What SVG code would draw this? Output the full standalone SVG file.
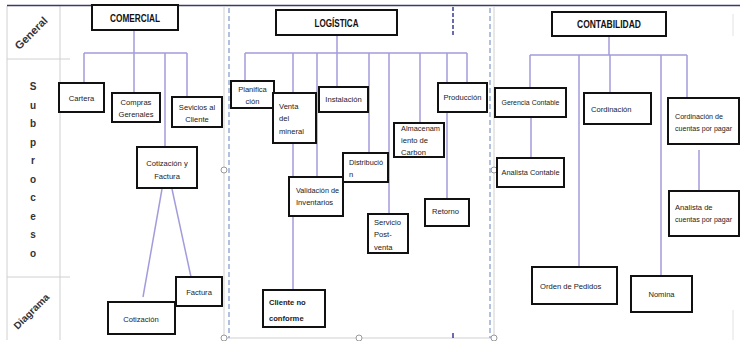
<svg xmlns="http://www.w3.org/2000/svg" width="743" height="341" viewBox="0 0 743 341">
<style>
.bx{fill:#fff;stroke:#111;stroke-width:2}
.t{font-family:"Liberation Sans",Arial,sans-serif;font-size:7.6px;fill:#222}
.c{text-anchor:middle}
.h{font-family:"Liberation Sans",Arial,sans-serif;font-size:10px;font-weight:bold;fill:#111;text-anchor:middle}
.ln{stroke:#a39cdc;stroke-width:1.5;fill:none}
.grid{stroke:#d0d0d0;stroke-width:1;fill:none}
.dash{stroke:#7d98cc;stroke-width:1.2;stroke-dasharray:5 3;fill:none}
.hd{fill:#fff;stroke:#999;stroke-width:1}
.side{font-family:"Liberation Sans",Arial,sans-serif;fill:#333;text-anchor:middle}
</style>
<rect width="743" height="341" fill="#fff"/>
<g id="frame">
<line class="grid" x1="7" y1="6" x2="7" y2="340"/>
<line class="grid" x1="60" y1="6" x2="60" y2="340"/>
<line class="grid" x1="7" y1="59" x2="70" y2="59"/>
<line class="grid" x1="7" y1="277" x2="70" y2="277"/>
<line x1="7" y1="5.5" x2="740" y2="5.5" stroke="#3a3a6e" stroke-width="1.5"/>
<line class="grid" x1="224" y1="6" x2="224" y2="338"/>
<line class="grid" x1="494" y1="6" x2="494" y2="338"/>
<line class="grid" x1="224" y1="338" x2="494" y2="338"/>
<line class="dash" x1="229" y1="8" x2="229" y2="338"/>
<line class="dash" x1="490" y1="8" x2="490" y2="338"/>
<line x1="453" y1="7" x2="453" y2="37" stroke="#3b3b8f" stroke-width="1.5" stroke-dasharray="4 2"/>
<line x1="453" y1="333" x2="453" y2="338" stroke="#3b3b8f" stroke-width="1.5"/>
<line x1="733" y1="14" x2="733" y2="36" stroke="#e2e2e2" stroke-width="1"/>
<line x1="733" y1="310" x2="733" y2="340" stroke="#e2e2e2" stroke-width="1"/>
<circle class="hd" cx="224" cy="170" r="3"/>
<circle class="hd" cx="224" cy="338" r="3"/>
<circle class="hd" cx="359" cy="338" r="3"/>
<circle class="hd" cx="494" cy="338" r="3"/>
<circle class="hd" cx="494" cy="170" r="3"/>
<text class="side" font-size="11" font-weight="bold" fill="#555" transform="translate(31,33) rotate(-45)" dy="4">General</text>
<text class="side" font-size="10" font-weight="bold" fill="#555" transform="translate(31,311) rotate(-45)" dy="4">Diagrama</text>
<g class="side" font-size="10" font-weight="bold">
<text x="33" y="90">S</text><text x="33" y="109">u</text><text x="33" y="127">b</text><text x="33" y="146">p</text><text x="33" y="164">r</text><text x="33" y="183">o</text><text x="33" y="201">c</text><text x="33" y="220">e</text><text x="33" y="238">s</text><text x="33" y="257">o</text>
</g>
</g>
<g id="connectors">
<path class="ln" d="M134 30V53M84 53H187M84 53V83M134 53V93M165 53V147M187 53V97"/>
<path class="ln" d="M162 189L143 297M172 189L191 277"/>
<path class="ln" d="M337 35V53M245 53H467M245 53V81M293 53V290M317 53V177M337 53V87M369 53V153M389 53V214M420 53V123M447 53V199M467 53V83"/>
<path class="ln" d="M609 36V55M530 55H687M530 55V88M579 55V267M610 55V93M661 55V276M687 55V98"/>
<path class="ln" d="M531 117V158M699 150V191"/>
</g>
<g id="comercial"><rect class="bx" x="92" y="5" width="86" height="25"/><text class="h" x="135" y="22" textLength="50" lengthAdjust="spacingAndGlyphs">COMERCIAL</text></g>
<g id="cartera"><rect class="bx" x="59" y="83" width="45" height="29"/><text class="t c" x="81.5" y="101">Cartera</text></g>
<g id="compras"><rect class="bx" x="112" y="93" width="48" height="29"/><text class="t c" x="136" y="105">Compras</text><text class="t c" x="136" y="117">Gerenales</text></g>
<g id="sevicios"><rect class="bx" x="172" y="97" width="50" height="30"/><text class="t c" x="197" y="110">Sevicios al</text><text class="t c" x="197" y="122">Cliente</text></g>
<g id="cotizacion-factura"><rect class="bx" x="137" y="147" width="60" height="41"/><text class="t c" x="167" y="166">Cotización y</text><text class="t c" x="167" y="179">Factura</text></g>
<g id="factura"><rect class="bx" x="176" y="277" width="46" height="29"/><text class="t c" x="199" y="295">Factura</text></g>
<g id="cotizacion"><rect class="bx" x="108" y="302" width="67" height="32"/><text class="t c" x="141" y="322">Cotización</text></g>
<g id="logistica"><rect class="bx" x="276" y="10" width="121" height="25"/><text class="h" x="336.5" y="27" textLength="44" lengthAdjust="spacingAndGlyphs">LOGÍSTICA</text></g>
<g id="planificacion"><rect class="bx" x="231" y="81" width="43" height="27"/><text class="t c" x="252.5" y="92">Planifica</text><text class="t c" x="252.5" y="104">ción</text></g>
<g id="venta"><rect class="bx" x="273" y="93" width="43" height="50"/><text class="t" x="279" y="109">Venta</text><text class="t" x="279" y="121">del</text><text class="t" x="279" y="134">mineral</text></g>
<g id="instalacion"><rect class="bx" x="319" y="87" width="49" height="25"/><text class="t c" x="343.5" y="102">Instalación</text></g>
<g id="distribucion"><rect class="bx" x="343" y="153" width="45" height="29"/><text class="t" x="349" y="165" textLength="34" lengthAdjust="spacingAndGlyphs">Distribució</text><text class="t" x="349" y="177">n</text></g>
<g id="validacion"><rect class="bx" x="289" y="177" width="54" height="39"/><text class="t" x="296" y="193" textLength="43" lengthAdjust="spacingAndGlyphs">Validación de</text><text class="t" x="296" y="205">Inventarios</text></g>
<g id="almacenamiento"><rect class="bx" x="394" y="123" width="50" height="34"/><text class="t" x="401" y="131" textLength="39" lengthAdjust="spacingAndGlyphs">Almacenam</text><text class="t" x="401" y="143">iento de</text><text class="t" x="401" y="155">Carbon</text></g>
<g id="servicio"><rect class="bx" x="368" y="214" width="40" height="39"/><text class="t" x="374" y="225">Servicio</text><text class="t" x="374" y="237">Post-</text><text class="t" x="374" y="250">venta</text></g>
<g id="produccion"><rect class="bx" x="438" y="83" width="49" height="29"/><text class="t c" x="462.5" y="100">Producción</text></g>
<g id="retorno"><rect class="bx" x="425" y="199" width="44" height="27"/><text class="t" x="432" y="214">Retorno</text></g>
<g id="cliente"><rect class="bx" x="263" y="290" width="62" height="37"/><text class="t" x="269" y="305" font-size="10" font-weight="bold" fill="#111">Cliente no</text><text class="t" x="269" y="321" font-size="10" font-weight="bold" fill="#111">conforme</text></g>
<g id="contabilidad"><rect class="bx" x="552" y="12" width="114" height="24"/><text class="h" x="609" y="28" textLength="64" lengthAdjust="spacingAndGlyphs">CONTABILIDAD</text></g>
<g id="gerencia"><rect class="bx" x="495" y="88" width="71" height="29"/><text class="t c" x="530.5" y="105" textLength="58" lengthAdjust="spacingAndGlyphs">Gerencia Contable</text></g>
<g id="analista"><rect class="bx" x="497" y="158" width="67" height="29"/><text class="t c" x="530.5" y="175" textLength="58" lengthAdjust="spacingAndGlyphs">Analista Contable</text></g>
<g id="cordinacion"><rect class="bx" x="584" y="93" width="67" height="31"/><text class="t" x="591" y="112">Cordinación</text></g>
<g id="cordinacion-cuentas"><rect class="bx" x="668" y="98" width="71" height="46"/><text class="t" x="675" y="119" textLength="48" lengthAdjust="spacingAndGlyphs">Cordinación de</text><text class="t" x="675" y="131" textLength="57" lengthAdjust="spacingAndGlyphs">cuentas por pagar</text></g>
<g id="analista-cuentas"><rect class="bx" x="669" y="191" width="70" height="45"/><text class="t" x="675" y="210">Analista de</text><text class="t" x="675" y="222" textLength="57" lengthAdjust="spacingAndGlyphs">cuentas por pagar</text></g>
<g id="orden"><rect class="bx" x="532" y="267" width="85" height="37"/><text class="t" x="540" y="289">Orden de Pedidos</text></g>
<g id="nomina"><rect class="bx" x="631" y="276" width="61" height="36"/><text class="t c" x="661.5" y="297">Nomina</text></g>
</svg>
